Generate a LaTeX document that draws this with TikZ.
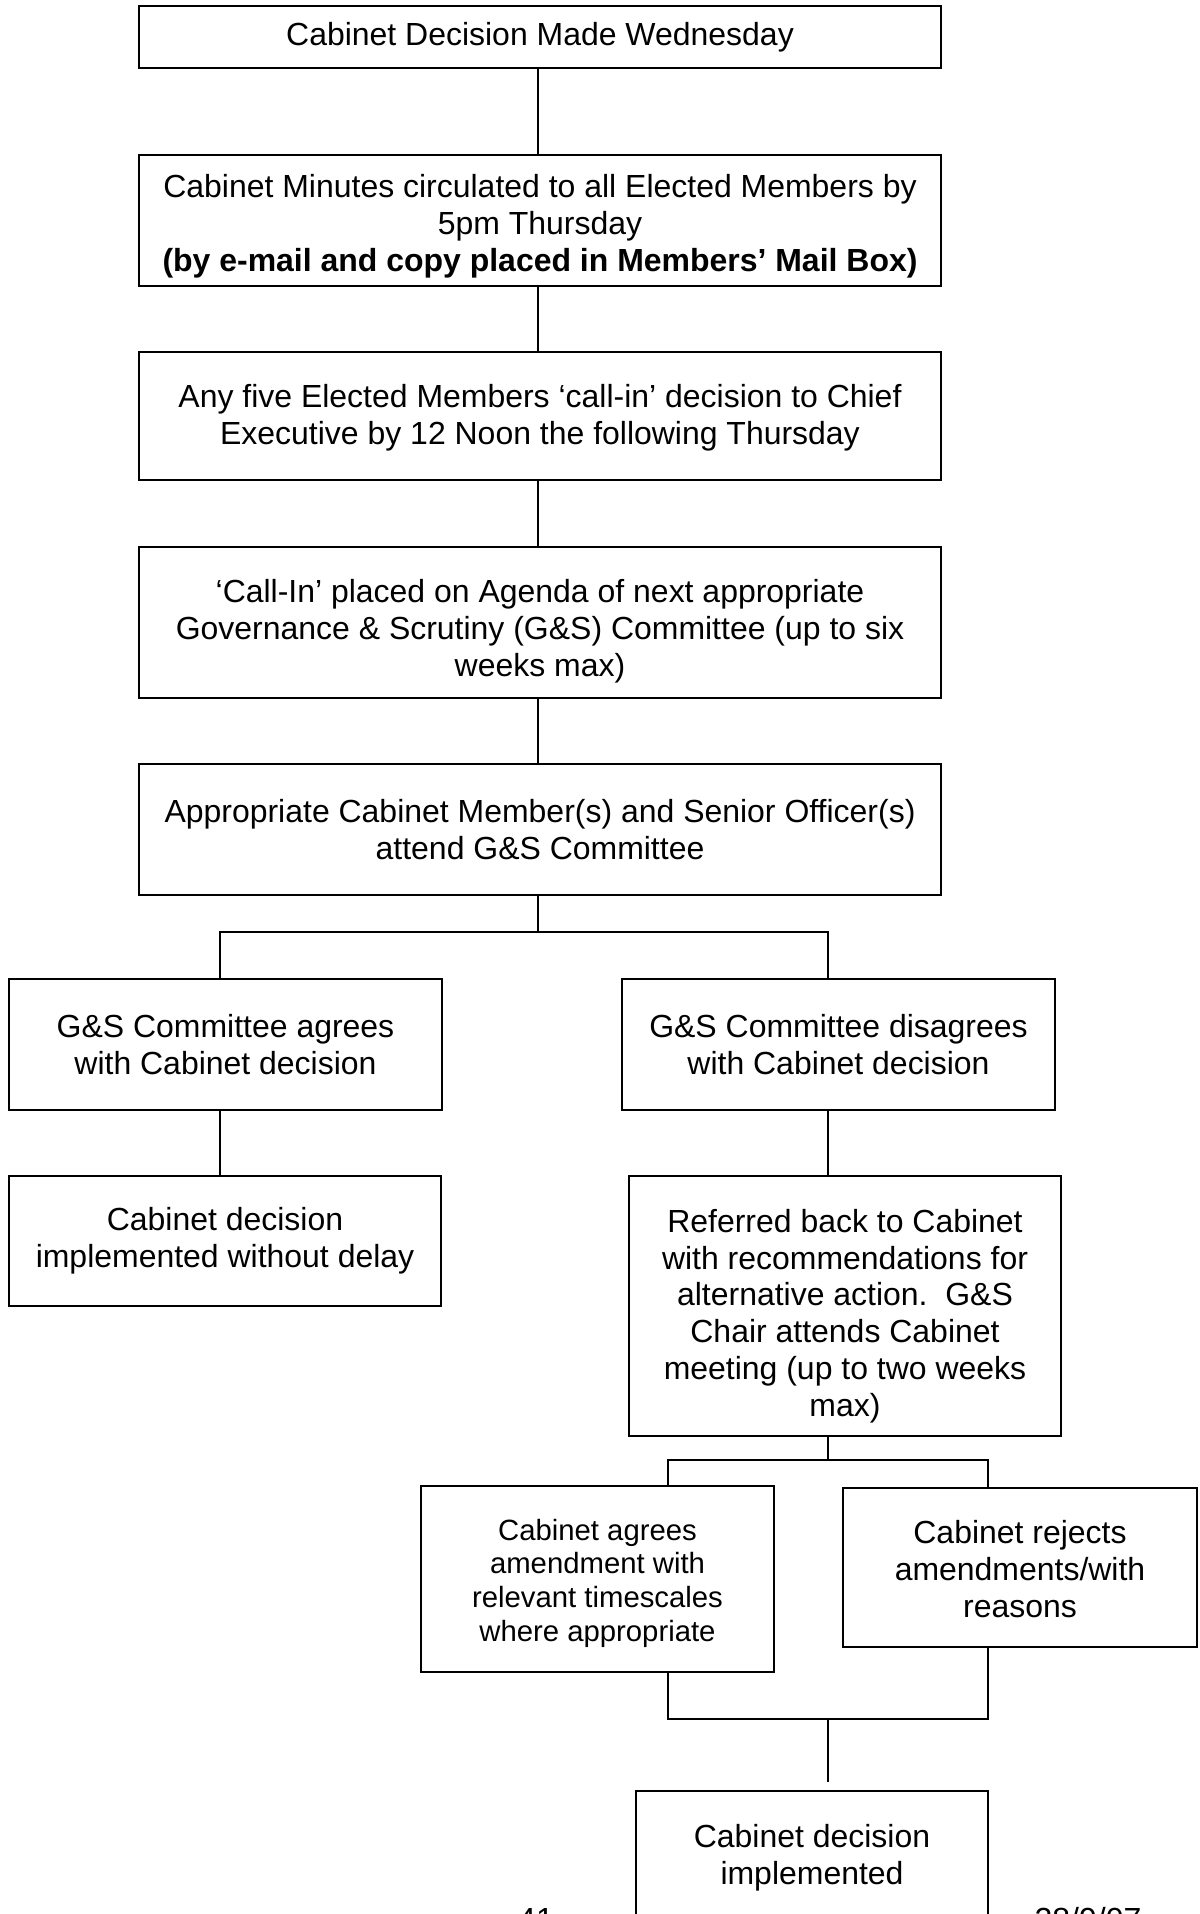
\documentclass[tikz,border=0pt]{standalone}
\usepackage{fontspec}
\setmainfont{Liberation Sans}
\newcommand\pxu{0.3754pt}
\tikzset{
  box/.style={draw, line width=0.8pt, align=center, inner sep=0pt,
    font=\fontsize{12}{13.8}\selectfont},
  txt/.style={align=center, inner sep=0pt, font=\fontsize{12}{13.8}\selectfont},
  smalltxt/.style={txt, font=\fontsize{11}{12.65}\selectfont},
  conn/.style={line width=0.8pt},
  foot/.style={anchor=base, inner sep=0pt, font=\fontsize{12}{13.8}\selectfont}
}
\begin{document}
\begin{tikzpicture}[x=0.3754pt, y=-0.3754pt]
\clip (0,0) rectangle (1199,1914);
\fill[white] (0,0) rectangle (1199,1914);

\node[box, minimum width=802*\pxu, minimum height=62*\pxu] (B1) at (540,37)
  {Cabinet Decision Made Wednesday};
\node[box, minimum width=802*\pxu, minimum height=131*\pxu] (B2) at (540,220.5) {};
\node[txt] (T2) at (540,226)
  {Cabinet Minutes circulated to all Elected Members by\\ 5pm Thursday\\
   \textbf{(by e-mail and copy placed in Members’ Mail Box)}};
\node[box, minimum width=802*\pxu, minimum height=128*\pxu] (B3) at (540,416) {};
\node[txt] (T3) at (540,418)
  {Any five Elected Members ‘call-in’ decision to Chief\\
   Executive by 12 Noon the following Thursday};
\node[box, minimum width=802*\pxu, minimum height=151*\pxu] (B4) at (540,622.5) {};
\node[txt] (T4) at (540,631)
  {‘Call-In’ placed on Agenda of next appropriate\\
   Governance \& Scrutiny (G\&S) Committee (up to six\\ weeks max)};
\node[box, minimum width=802*\pxu, minimum height=131*\pxu] (B5) at (540,829.5)
  {Appropriate Cabinet Member(s) and Senior Officer(s)\\ attend G\&S Committee};
\node[box, minimum width=433*\pxu, minimum height=131*\pxu] (B6) at (225.5,1044.5)
  {G\&S Committee agrees\\ with Cabinet decision};
\node[box, minimum width=433*\pxu, minimum height=131*\pxu] (B7) at (838.5,1044.5)
  {G\&S Committee disagrees\\ with Cabinet decision};
\node[box, minimum width=432*\pxu, minimum height=130*\pxu] (B8) at (225,1241)
  {Cabinet decision\\ implemented without delay};
\node[box, minimum width=432*\pxu, minimum height=260*\pxu] (B9) at (845,1306) {};
\node[txt] (T9) at (845,1316)
  {Referred back to Cabinet\\ with recommendations for\\ alternative action.\ \ G\&S\\
   Chair attends Cabinet\\ meeting (up to two weeks\\ max)};
\node[box, minimum width=353*\pxu, minimum height=186*\pxu] (B10) at (597.5,1579) {};
\node[smalltxt] (T10) at (597.5,1583)
  {Cabinet agrees\\ amendment with\\ relevant timescales\\ where appropriate};
\node[box, minimum width=354*\pxu, minimum height=159*\pxu] (B11) at (1020,1567.5) {};
\node[txt] (T11) at (1020,1569)
  {Cabinet rejects\\ amendments/with\\ reasons};
\node[box, minimum width=352*\pxu, minimum height=130*\pxu] (B12) at (812,1856) {};
\node[txt] (T12) at (812,1858)
  {Cabinet decision\\ implemented};

\node[foot] (F1) at (536,1930) {41};
\node[foot] (F2) at (1088,1930) {28/9/07};

\coordinate (jL) at (220,932);
\coordinate (jR) at (828,932);
\coordinate (jC) at (538,932);
\coordinate (kL) at (668,1460);
\coordinate (kR) at (988,1460);
\coordinate (kC) at (828,1460);
\coordinate (mL) at (668,1719);
\coordinate (mR) at (988,1719);
\coordinate (mC) at (828,1719);
\coordinate (mE) at (828,1782);

\draw[conn] (B1.south -| jC) -- (B2.north -| jC);
\draw[conn] (B2.south -| jC) -- (B3.north -| jC);
\draw[conn] (B3.south -| jC) -- (B4.north -| jC);
\draw[conn] (B4.south -| jC) -- (B5.north -| jC);
\draw[conn] (B5.south -| jC) -- (jC);
\draw[conn] (jL |- B6.north) -- (jL) -- (jR) -- (jR |- B7.north);
\draw[conn] (jL |- B6.south) -- (jL |- B8.north);
\draw[conn] (jR |- B7.south) -- (jR |- B9.north);
\draw[conn] (jR |- B9.south) -- (kC);
\draw[conn] (kL |- B10.north) -- (kL) -- (kR) -- (kR |- B11.north);
\draw[conn] (kL |- B10.south) -- (mL) -- (mR) -- (mR |- B11.south);
\draw[conn] (mC) -- (mE);
\end{tikzpicture}
\end{document}
